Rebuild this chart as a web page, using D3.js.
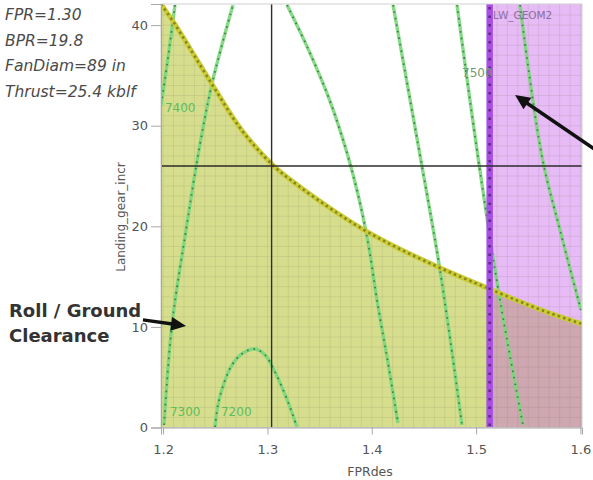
<!DOCTYPE html>
<html>
<head>
<meta charset="utf-8">
<script src="https://cdn.jsdelivr.net/npm/d3@7"></script>
<style>
  html, body { margin: 0; padding: 0; background: #fff; }
  svg { display: block; font-family: "DejaVu Sans", sans-serif; }
</style>
</head>
<body>
<svg id="chart" width="593" height="480"></svg>
<script>
// ---- design point ----
const designFpr = 1.304;
const designBpr = 19.8;
const designFanDiam = 89;
const designThrust = 25.4;
const designGearIncr = 26.0;

// ---- axes ----
const xTicks = [1.2, 1.3, 1.4, 1.5, 1.6];
const yTicks = [0, 10, 20, 30, 40];

// ---- roll / ground clearance boundary (region below is infeasible) ----
const clearFpr  = [1.198, 1.200, 1.210, 1.225, 1.250, 1.275, 1.305, 1.330, 1.360, 1.390, 1.420, 1.450, 1.480, 1.510, 1.540, 1.570, 1.6015];
const clearIncr = [42.1, 41.8, 40.3, 37.8, 33.6, 29.6, 26.1, 24.0, 21.8, 19.8, 18.1, 16.6, 15.2, 13.9, 12.6, 11.4, 10.3];

// ---- wing geometry limit (FPR above is infeasible) ----
const wingLimitFpr = 1.513;

// ---- objective contours ----
const c7400Fpr  = [1.2114, 1.2057, 1.2002, 1.198];
const c7400Incr = [42.0, 37.5, 33.5, 32.0];
const c7300Fpr  = [1.2009, 1.2085, 1.2220, 1.2344, 1.2469, 1.2670];
const c7300Incr = [0.25, 10.19, 19.63, 27.58, 34.18, 42.0];
const c7200Fpr  = [1.2498, 1.2526, 1.2584, 1.2660, 1.2766, 1.2881, 1.2977, 1.3063, 1.3159, 1.3226, 1.3283];
const c7200Incr = [0.05, 2.24, 4.42, 6.21, 7.41, 7.80, 7.21, 5.72, 3.53, 1.74, 0.05];
const c7300bFpr  = [1.3188, 1.3395, 1.3596, 1.3763, 1.3887, 1.3977, 1.4050, 1.4151, 1.4251];
const c7300bIncr = [42.0, 37.52, 32.55, 27.29, 22.32, 17.64, 12.67, 6.71, 0.45];
const c7400bFpr  = [1.4204, 1.4462, 1.4654, 1.4865];
const c7400bIncr = [42.0, 27.09, 15.66, 0.25];
const c7500Fpr  = [1.4817, 1.5018, 1.5229, 1.5449];
const c7500Incr = [42.0, 26.89, 12.67, 0.25];
const c7600Fpr  = [1.5421, 1.5632, 1.5804, 1.6005];
const c7600Incr = [42.0, 26.89, 19.63, 11.68];

// contour labels
const labelText = ["7400", "7300", "7200", "7500"];
const labelFpr  = [1.2018, 1.2066, 1.2555, 1.4865];
const labelIncr = [31.4, 1.15, 1.15, 34.8];

// ---- layout ----
const svg = d3.select("#chart");
const x = d3.scaleLinear().domain([1.198, 1.6015]).range([161, 582]);
const y = d3.scaleLinear().domain([0, 42.1]).range([427.5, 4]);
const [x0, x1] = x.range();
const [y0, y1] = y.range();

const zip = (a, b) => a.map((v, i) => [v, b[i]]);
const line = d3.line().x(d => x(d[0])).y(d => y(d[1])).curve(d3.curveCatmullRom.alpha(0.5));

const defs = svg.append("defs");
defs.append("clipPath").attr("id", "plotClip")
  .append("rect").attr("x", x0).attr("y", y1).attr("width", x1 - x0).attr("height", y0 - y1);

// clearance region path
const clearPts = zip(clearFpr, clearIncr);
const clearArea = d3.area()
  .x(d => x(d[0])).y0(y0).y1(d => Math.max(y1, y(d[1])))
  .curve(d3.curveCatmullRom.alpha(0.5));

const fillClip = defs.append("clipPath").attr("id", "fillClip");
fillClip.append("path").attr("d", clearArea(clearPts));
fillClip.append("rect").attr("x", x(wingLimitFpr)).attr("y", y1)
  .attr("width", x1 - x(wingLimitFpr)).attr("height", y0 - y1);

const plot = svg.append("g").attr("clip-path", "url(#plotClip)");

// infeasible regions
plot.append("path").attr("d", clearArea(clearPts)).attr("fill", "#d6de8e");
plot.append("rect")
  .attr("x", x(wingLimitFpr)).attr("y", y1)
  .attr("width", x1 - x(wingLimitFpr)).attr("height", y0 - y1)
  .attr("fill", "rgb(195,85,230)").attr("fill-opacity", 0.4);

// grid shows through the shaded regions
const grid = plot.append("g").attr("clip-path", "url(#fillClip)")
  .attr("stroke", "rgb(110,110,80)").attr("stroke-opacity", 0.12).attr("stroke-width", 1);
d3.range(1.2, 1.6001, 0.01).forEach(v => {
  grid.append("line").attr("x1", x(v)).attr("x2", x(v)).attr("y1", y1).attr("y2", y0);
});
d3.range(1, 42, 1).forEach(v => {
  grid.append("line").attr("x1", x0).attr("x2", x1).attr("y1", y(v)).attr("y2", y(v));
});

// contour lines
const contours = [
  zip(c7400Fpr, c7400Incr), zip(c7300Fpr, c7300Incr), zip(c7200Fpr, c7200Incr),
  zip(c7300bFpr, c7300bIncr), zip(c7400bFpr, c7400bIncr), zip(c7500Fpr, c7500Incr),
  zip(c7600Fpr, c7600Incr)
];
contours.forEach(pts => {
  plot.append("path").attr("d", line(pts)).attr("fill", "none")
    .attr("stroke", "#7ad67a").attr("stroke-width", 3.4).attr("stroke-opacity", 0.9);
  plot.append("path").attr("d", line(pts)).attr("fill", "none")
    .attr("stroke", "#3f7f4c").attr("stroke-width", 1.8).attr("stroke-dasharray", "1.6,5");
});

// clearance boundary
plot.append("path").attr("d", line(clearPts)).attr("fill", "none")
  .attr("stroke", "#cccc38").attr("stroke-width", 5);
plot.append("path").attr("d", line(clearPts)).attr("fill", "none")
  .attr("stroke", "#85861c").attr("stroke-width", 2.6).attr("stroke-dasharray", "2.4,3.2");

// wing geometry boundary
plot.append("line").attr("x1", x(wingLimitFpr)).attr("x2", x(wingLimitFpr))
  .attr("y1", y1).attr("y2", y0).attr("stroke", "#a84ee6").attr("stroke-width", 6.5);
plot.append("line").attr("x1", x(wingLimitFpr)).attr("x2", x(wingLimitFpr))
  .attr("y1", y1 + 3).attr("y2", y0).attr("stroke", "#5d2a86").attr("stroke-width", 2.5)
  .attr("stroke-dasharray", "2.5,6");

// contour labels
labelText.forEach((t, i) => {
  plot.append("text").attr("x", x(labelFpr[i])).attr("y", y(labelIncr[i]))
    .attr("font-size", 12).attr("fill", i === 3 ? "#6f9a78" : "#5cbd5c").text(t);
});
plot.append("text").attr("x", x(1.5162)).attr("y", y(40.6))
  .attr("font-size", 10.5).attr("fill", "#8b6fa3").text("LW_GEOM2");

// design point crosshair
svg.append("line").attr("x1", x0).attr("x2", x1).attr("y1", y(designGearIncr)).attr("y2", y(designGearIncr))
  .attr("stroke", "#2e2e2e").attr("stroke-width", 1.4);
svg.append("line").attr("x1", x(designFpr)).attr("x2", x(designFpr)).attr("y1", y1).attr("y2", y0)
  .attr("stroke", "#2e2e2e").attr("stroke-width", 1.4);

// frame
svg.append("rect").attr("x", x0).attr("y", y1).attr("width", x1 - x0).attr("height", y0 - y1)
  .attr("fill", "none").attr("stroke", "#cfcfcf").attr("stroke-width", 1);

// axes
const xAxis = svg.append("g").attr("transform", `translate(0,${y0})`)
  .call(d3.axisBottom(x).tickValues(xTicks).tickSize(7).tickPadding(10).tickFormat(d3.format(".1f")));
const yAxis = svg.append("g").attr("transform", `translate(${x0},0)`)
  .call(d3.axisLeft(y).tickValues(yTicks).tickSize(10).tickPadding(3));
[xAxis, yAxis].forEach(g => {
  g.select(".domain").attr("stroke", "#a8a8a8");
  g.selectAll(".tick line").attr("stroke", "#a8a8a8");
  g.selectAll(".tick text").attr("fill", "#555").attr("font-size", 13)
    .attr("font-family", "DejaVu Sans, sans-serif");
});

svg.append("text").attr("x", 370).attr("y", 476).attr("text-anchor", "middle")
  .attr("font-size", 12.5).attr("fill", "#555").text("FPRdes");
svg.append("text").attr("transform", `translate(125,217) rotate(-90)`).attr("text-anchor", "middle")
  .attr("font-size", 12).attr("fill", "#555").text("Landing_gear_incr");

// design summary
const summary = [
  `FPR=${d3.format(".2f")(designFpr)}`,
  `BPR=${designBpr.toFixed(1)}`,
  `FanDiam=${designFanDiam} in`,
  `Thrust=${designThrust.toFixed(1)} kblf`
];
summary.forEach((t, i) => {
  svg.append("text").attr("x", 5).attr("y", 20 + i * 25.5)
    .attr("font-size", 15.5).attr("font-style", "italic").attr("fill", "#4a4a4a").text(t);
});

// callout
svg.append("text").attr("x", 9).attr("y", 317).attr("font-size", 18).attr("font-weight", "bold")
  .attr("fill", "#333").text("Roll / Ground");
svg.append("text").attr("x", 9).attr("y", 342).attr("font-size", 18).attr("font-weight", "bold")
  .attr("fill", "#333").text("Clearance");

// arrows
function arrow(fromF, fromI, toF, toI) {
  const ax = x(fromF), ay = y(fromI), bx = x(toF), by = y(toI);
  const ang = Math.atan2(by - ay, bx - ax);
  const hl = 15, hw = 7;
  const bxs = bx - Math.cos(ang) * hl * 0.8, bys = by - Math.sin(ang) * hl * 0.8;
  svg.append("line").attr("x1", ax).attr("y1", ay).attr("x2", bxs).attr("y2", bys)
    .attr("stroke", "#111").attr("stroke-width", 3.5);
  const px = -Math.sin(ang), py = Math.cos(ang);
  const baseX = bx - Math.cos(ang) * hl, baseY = by - Math.sin(ang) * hl;
  svg.append("polygon")
    .attr("points", [[bx, by], [baseX + px * hw, baseY + py * hw], [baseX - px * hw, baseY - py * hw]].map(p => p.join(",")).join(" "))
    .attr("fill", "#111");
}
arrow(1.6187, 27.3, 1.5373, 33.05);
arrow(1.1807, 10.7, 1.222, 10.1);
</script>
</body>
</html>
